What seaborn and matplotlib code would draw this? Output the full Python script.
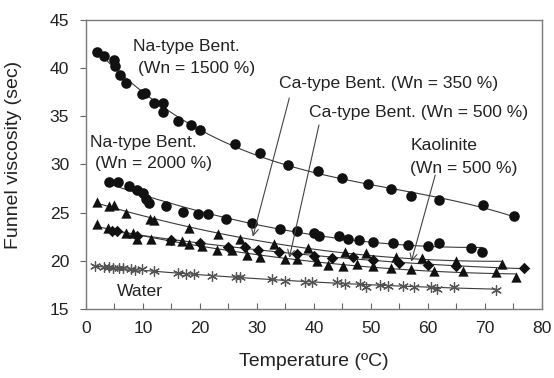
import numpy as np
import pandas as pd
import matplotlib
matplotlib.use("Agg")
import matplotlib.pyplot as plt
import seaborn as sns

# Funnel viscosity vs. temperature for several suspensions
na1500_t = [2.0, 3.1, 5.0, 5.1, 6.0, 7.0, 9.9, 10.4, 12.0, 13.6, 13.5, 16.1, 18.5, 20.0,
            26.2, 30.5, 35.5, 40.8, 45.0, 49.5, 53.5, 57.0, 62.0, 69.6, 75.1]
na1500_v = [41.7, 41.3, 40.8, 40.2, 39.3, 38.5, 37.3, 37.4, 36.4, 36.4, 35.4, 34.5, 34.1, 33.6,
            32.1, 31.2, 29.9, 29.3, 28.6, 28.0, 27.4, 26.7, 26.3, 25.8, 24.6]

na2000_t = [4.1, 5.6, 7.5, 8.9, 10.1, 10.6, 11.0, 14.0, 17.0, 19.6, 21.4, 24.6, 29.1, 34.0,
            37.1, 40.0, 40.9, 44.4, 46.0, 48.0, 50.4, 53.9, 56.6, 60.1, 61.9, 67.5, 69.5]
na2000_v = [28.2, 28.2, 27.8, 27.3, 27.0, 26.4, 26.0, 25.7, 25.1, 24.9, 24.8, 24.3, 23.9, 23.3,
            23.1, 22.9, 22.6, 22.6, 22.3, 22.1, 21.9, 21.8, 21.6, 21.5, 21.8, 21.3, 20.9]

ca350_t = [2.0, 4.0, 5.0, 7.0, 11.2, 12.0, 18.1, 23.2, 27.0, 33.0, 39.0, 45.4, 49.1, 54.5,
           58.9, 65.0, 73.0]
ca350_v = [26.1, 25.7, 25.8, 25.0, 24.3, 24.2, 23.4, 22.8, 22.3, 21.7, 21.3, 20.9, 20.8, 20.4,
           20.3, 20.0, 19.7]

ca500_t = [2.0, 3.9, 7.0, 8.2, 9.0, 11.4, 14.7, 16.8, 18.1, 20.3, 23.0, 25.7, 28.2, 30.5, 34.9,
           37.0, 40.6, 42.5, 45.1, 47.5, 50.4, 53.5, 57.0, 61.0, 66.1, 71.9, 75.4]
ca500_v = [23.8, 23.4, 22.9, 22.9, 22.3, 22.3, 22.1, 22.0, 21.7, 21.5, 21.1, 21.1, 20.6, 20.4, 20.2,
           20.2, 20.0, 19.6, 19.5, 19.7, 19.4, 19.2, 19.1, 18.9, 18.9, 18.8, 18.3]

kaol_t = [4.5, 5.4, 9.0, 14.9, 20.0, 25.0, 28.0, 30.2, 33.9, 37.0, 40.0, 43.1, 46.8, 50.4,
          55.0, 60.1, 65.0, 76.9]
kaol_v = [23.1, 23.1, 22.6, 22.2, 21.8, 21.4, 21.4, 21.1, 20.9, 20.7, 20.5, 20.3, 20.4, 20.1,
          19.8, 19.6, 19.4, 19.2]

water_t = [1.6, 3.1, 4.0, 4.8, 5.8, 6.6, 7.9, 8.6, 9.9, 12.0, 16.1, 17.5, 18.9, 22.1, 26.3,
           27.0, 32.6, 34.9, 38.5, 39.6, 44.0, 45.4, 48.1, 49.2, 51.6, 53.0, 55.6, 57.5, 60.6,
           61.6, 64.6, 72.0]
water_v = [19.5, 19.3, 19.3, 19.2, 19.2, 19.2, 19.1, 19.0, 19.1, 18.9, 18.7, 18.6, 18.6, 18.4,
           18.3, 18.3, 18.1, 17.9, 17.8, 17.8, 17.8, 17.6, 17.6, 17.3, 17.5, 17.4, 17.4, 17.3,
           17.3, 17.1, 17.3, 17.0]

x_ticks = [0, 10, 20, 30, 40, 50, 60, 70, 80]
y_ticks = [15, 20, 25, 30, 35, 40, 45]

sns.set_style("white")
plt.rcParams["font.family"] = ["Liberation Sans", "DejaVu Sans"]

fig = plt.figure(figsize=(5.54, 3.78), dpi=100)
ax = fig.add_axes([0.155, 0.183, 0.823, 0.764])

line_kw = dict(color="#3a3a3a", lw=0.8)
asterisk = (6, 2, 0)
# (times, values, marker, size, colour, polynomial order of the trend line)
series = [
    (na1500_t, na1500_v, "o", 58, "#111111", 3),
    (na2000_t, na2000_v, "o", 58, "#111111", 2),
    (ca350_t, ca350_v, "^", 55, "#111111", 2),
    (ca500_t, ca500_v, "^", 55, "#111111", 2),
    (kaol_t, kaol_v, "D", 34, "#111111", 2),
    (water_t, water_v, asterisk, 50, "#555555", 2),
]
for t, v, mk, size, col, order in series:
    df = pd.DataFrame({"T": t, "V": v})
    sns.regplot(data=df, x="T", y="V", order=order, ci=None, ax=ax, marker=mk,
                scatter_kws=dict(s=size, color=col, alpha=1,
                                 linewidths=0.9 if mk == asterisk else 0, zorder=3),
                line_kws=line_kw)

fs = 12.6
tc = "#222222"
ax.text(8.2, 41.8, "Na-type Bent.", fontsize=fs, color=tc)
ax.text(9.1, 39.5, "(Wn = 1500 %)", fontsize=fs, color=tc)
ax.text(0.7, 31.85, "Na-type Bent.", fontsize=fs, color=tc)
ax.text(1.6, 29.6, "(Wn = 2000 %)", fontsize=fs, color=tc)
ax.text(33.9, 37.9, "Ca-type Bent. (Wn = 350 %)", fontsize=fs, color=tc)
ax.text(39.1, 34.96, "Ca-type Bent. (Wn = 500 %)", fontsize=fs, color=tc)
ax.text(57.0, 31.5, "Kaolinite", fontsize=fs, color=tc)
ax.text(56.8, 29.1, "(Wn = 500 %)", fontsize=fs, color=tc)
ax.text(5.4, 16.3, "Water", fontsize=fs, color=tc)

arrow_kw = dict(arrowstyle="->,head_length=0.5,head_width=0.25", color="#444444", lw=0.8,
                shrinkA=0, shrinkB=0)
ax.annotate("", xy=(29.3, 22.5), xytext=(35.7, 36.9), arrowprops=arrow_kw)
ax.annotate("", xy=(35.7, 20.3), xytext=(40.9, 34.1), arrowprops=arrow_kw)
ax.annotate("", xy=(57.1, 19.9), xytext=(61.3, 28.9), arrowprops=arrow_kw)

ax.set_xlim(0, 80)
ax.set_ylim(15, 45)
ax.set_xticks(x_ticks)
ax.set_xticks([5, 15, 25, 35, 45, 55, 65, 75], minor=True)
ax.set_yticks(y_ticks)
ax.tick_params(axis="x", which="both", direction="in", length=4, width=0.8, color="#666666",
               labelsize=12.6, labelcolor=tc, pad=9, bottom=True)
ax.tick_params(axis="y", direction="out", length=4, width=0.8, color="#666666",
               labelsize=12.6, labelcolor=tc, pad=8, left=True)
for sp in ax.spines.values():
    sp.set_color("#7a7a7a")
    sp.set_linewidth(1.0)

ax.set_xlabel("Temperature (ºC)", fontsize=14, color=tc, labelpad=12)
ax.set_ylabel("Funnel viscosity (sec)", fontsize=14, color=tc)
ax.yaxis.set_label_coords(-0.14, 0.533)

fig.savefig("out.png", dpi=100)
